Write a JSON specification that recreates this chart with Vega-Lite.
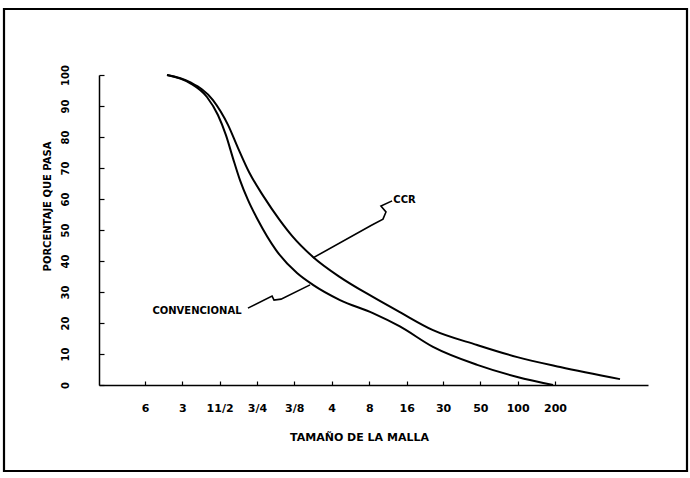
{
  "$schema": "https://vega.github.io/schema/vega-lite/v6.json",
  "width": 683,
  "height": 462,
  "autosize": {"type": "none"},
  "padding": {"left": 4, "top": 9, "right": 3, "bottom": 7},
  "background": "white",
  "config": {
    "view": {"stroke": "black", "strokeWidth": 2.2},
    "font": "DejaVu Sans"
  },
  "datasets": {
    "curvas": [
      {"serie": "CONVENCIONAL", "orden": 1, "malla_mm": 101.2, "pasa": 100},
      {"serie": "CONVENCIONAL", "orden": 2, "malla_mm": 66.1, "pasa": 97.4},
      {"serie": "CONVENCIONAL", "orden": 3, "malla_mm": 48.2, "pasa": 92.9},
      {"serie": "CONVENCIONAL", "orden": 4, "malla_mm": 39.3, "pasa": 87.1},
      {"serie": "CONVENCIONAL", "orden": 5, "malla_mm": 33.86, "pasa": 80.6},
      {"serie": "CONVENCIONAL", "orden": 6, "malla_mm": 29.74, "pasa": 73.2},
      {"serie": "CONVENCIONAL", "orden": 7, "malla_mm": 26.09, "pasa": 66.1},
      {"serie": "CONVENCIONAL", "orden": 8, "malla_mm": 22.5, "pasa": 59.7},
      {"serie": "CONVENCIONAL", "orden": 9, "malla_mm": 18.7, "pasa": 53.2},
      {"serie": "CONVENCIONAL", "orden": 10, "malla_mm": 13.35, "pasa": 43.5},
      {"serie": "CONVENCIONAL", "orden": 11, "malla_mm": 9.04, "pasa": 36.1},
      {"serie": "CONVENCIONAL", "orden": 12, "malla_mm": 6.72, "pasa": 32.3},
      {"serie": "CONVENCIONAL", "orden": 13, "malla_mm": 4.07, "pasa": 27.4},
      {"serie": "CONVENCIONAL", "orden": 14, "malla_mm": 2.21, "pasa": 23.2},
      {"serie": "CONVENCIONAL", "orden": 15, "malla_mm": 1.338, "pasa": 18.9},
      {"serie": "CONVENCIONAL", "orden": 16, "malla_mm": 0.723, "pasa": 12.3},
      {"serie": "CONVENCIONAL", "orden": 17, "malla_mm": 0.318, "pasa": 6.5},
      {"serie": "CONVENCIONAL", "orden": 18, "malla_mm": 0.151, "pasa": 2.6},
      {"serie": "CONVENCIONAL", "orden": 19, "malla_mm": 0.0777, "pasa": 0},
      {"serie": "CCR", "orden": 1, "malla_mm": 101.2, "pasa": 100},
      {"serie": "CCR", "orden": 2, "malla_mm": 66.1, "pasa": 97.7},
      {"serie": "CCR", "orden": 3, "malla_mm": 43.1, "pasa": 91.9},
      {"serie": "CCR", "orden": 4, "malla_mm": 32.6, "pasa": 83.9},
      {"serie": "CCR", "orden": 5, "malla_mm": 27.1, "pasa": 76.5},
      {"serie": "CCR", "orden": 6, "malla_mm": 22.07, "pasa": 68.7},
      {"serie": "CCR", "orden": 7, "malla_mm": 16.69, "pasa": 60.6},
      {"serie": "CCR", "orden": 8, "malla_mm": 12.63, "pasa": 53.5},
      {"serie": "CCR", "orden": 9, "malla_mm": 9.92, "pasa": 48.1},
      {"serie": "CCR", "orden": 10, "malla_mm": 6.72, "pasa": 41.3},
      {"serie": "CCR", "orden": 11, "malla_mm": 4.07, "pasa": 34.8},
      {"serie": "CCR", "orden": 12, "malla_mm": 2.21, "pasa": 28.4},
      {"serie": "CCR", "orden": 13, "malla_mm": 1.338, "pasa": 23.5},
      {"serie": "CCR", "orden": 14, "malla_mm": 0.723, "pasa": 17.7},
      {"serie": "CCR", "orden": 15, "malla_mm": 0.318, "pasa": 12.9},
      {"serie": "CCR", "orden": 16, "malla_mm": 0.151, "pasa": 9.0},
      {"serie": "CCR", "orden": 17, "malla_mm": 0.0681, "pasa": 5.8},
      {"serie": "CCR", "orden": 18, "malla_mm": 0.0224, "pasa": 1.9}
    ],
    "guias": [
      {"serie": "CCR", "orden": 1, "malla_mm": 1.546, "pasa": 59.4},
      {"serie": "CCR", "orden": 2, "malla_mm": 1.902, "pasa": 57.7},
      {"serie": "CCR", "orden": 3, "malla_mm": 1.732, "pasa": 55.8},
      {"serie": "CCR", "orden": 4, "malla_mm": 1.831, "pasa": 53.5},
      {"serie": "CCR", "orden": 5, "malla_mm": 2.248, "pasa": 51.6},
      {"serie": "CCR", "orden": 6, "malla_mm": 6.72, "pasa": 41.0},
      {"serie": "CONVENCIONAL", "orden": 1, "malla_mm": 22.5, "pasa": 24.8},
      {"serie": "CONVENCIONAL", "orden": 2, "malla_mm": 14.37, "pasa": 28.7},
      {"serie": "CONVENCIONAL", "orden": 3, "malla_mm": 13.86, "pasa": 27.4},
      {"serie": "CONVENCIONAL", "orden": 4, "malla_mm": 12.17, "pasa": 27.7},
      {"serie": "CONVENCIONAL", "orden": 5, "malla_mm": 7.1, "pasa": 32.3}
    ],
    "rotulos": [
      {"texto": "CCR", "malla_mm": 1.227, "pasa": 59.7},
      {"texto": "CONVENCIONAL", "malla_mm": 58.0, "pasa": 23.9}
    ]
  },
  "layer": [
    {
      "data": {"name": "curvas"},
      "mark": {"type": "line", "color": "black", "strokeWidth": 2, "interpolate": "monotone"},
      "encoding": {
        "x": {
          "field": "malla_mm",
          "type": "quantitative",
          "scale": {"type": "log", "domain": [358, 0.01332], "range": [95, 644], "nice": false, "zero": false},
          "axis": {
            "title": "TAMAÑO DE LA MALLA",
            "offset": -86,
            "grid": false,
            "values": [152.4, 76.2, 38.1, 19.05, 9.525, 4.75, 2.36, 1.18, 0.6, 0.3, 0.15, 0.075],
            "labelExpr": "datum.value > 100 ? '6' : datum.value > 50 ? '3' : datum.value > 30 ? '11/2' : datum.value > 15 ? '3/4' : datum.value > 7 ? '3/8' : datum.value > 3.5 ? '4' : datum.value > 2 ? '8' : datum.value > 1 ? '16' : datum.value > 0.5 ? '30' : datum.value > 0.25 ? '50' : datum.value > 0.12 ? '100' : '200'",
            "domainColor": "black",
            "domainWidth": 1.5,
            "tickColor": "black",
            "tickSize": -4,
            "tickWidth": 1.2,
            "labelColor": "black",
            "labelFont": "DejaVu Sans",
            "labelFontWeight": "bold",
            "labelFontSize": 11,
            "labelPadding": 27,
            "labelBaseline": "middle",
            "labelFlush": false,
            "labelOverlap": false,
            "titleColor": "black",
            "titleFont": "DejaVu Sans",
            "titleFontWeight": "bold",
            "titleFontSize": 11,
            "titleAlign": "center",
            "titleBaseline": "middle",
            "titleX": 355,
            "titleY": 52
          }
        },
        "y": {
          "field": "pasa",
          "type": "quantitative",
          "scale": {"domain": [0, 100], "range": [376, 66], "nice": false},
          "axis": {
            "title": "PORCENTAJE QUE PASA",
            "offset": -95,
            "grid": false,
            "values": [0, 10, 20, 30, 40, 50, 60, 70, 80, 90, 100],
            "domainColor": "black",
            "domainWidth": 1.5,
            "tickColor": "black",
            "tickSize": -5,
            "tickWidth": 1.2,
            "labelColor": "black",
            "labelFont": "DejaVu Sans",
            "labelFontWeight": "bold",
            "labelFontSize": 10,
            "labelAngle": -90,
            "labelAlign": "center",
            "labelBaseline": "bottom",
            "labelPadding": 34,
            "labelFlush": false,
            "labelOverlap": false,
            "titleColor": "black",
            "titleFont": "DejaVu Sans",
            "titleFontWeight": "bold",
            "titleFontSize": 10,
            "titleAngle": -90,
            "titleAlign": "center",
            "titleBaseline": "middle",
            "titleX": -52,
            "titleY": 197
          }
        },
        "detail": {"field": "serie"},
        "order": {"field": "orden", "type": "quantitative"}
      }
    },
    {
      "data": {"name": "guias"},
      "mark": {"type": "line", "color": "black", "strokeWidth": 1.6, "interpolate": "linear"},
      "encoding": {
        "x": {"field": "malla_mm", "type": "quantitative"},
        "y": {"field": "pasa", "type": "quantitative"},
        "detail": {"field": "serie"},
        "order": {"field": "orden", "type": "quantitative"}
      }
    },
    {
      "data": {"name": "rotulos"},
      "mark": {"type": "text", "color": "black", "fontWeight": "bold", "fontSize": 10, "font": "DejaVu Sans", "align": "center", "baseline": "middle"},
      "encoding": {
        "x": {"field": "malla_mm", "type": "quantitative"},
        "y": {"field": "pasa", "type": "quantitative"},
        "text": {"field": "texto"}
      }
    }
  ]
}
